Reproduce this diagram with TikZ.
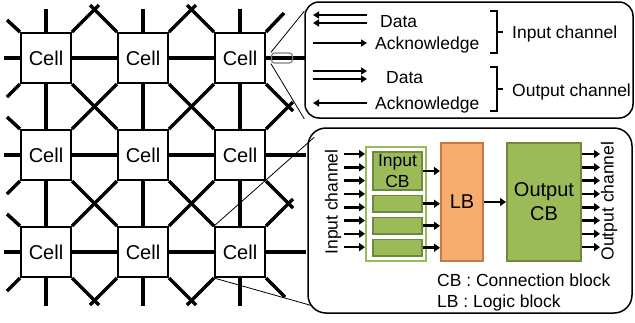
\documentclass[tikz,border=0pt]{standalone}
\usepackage{fontspec}
\setmainfont{Liberation Sans}
\usepackage{xcolor}
\usetikzlibrary{arrows.meta,positioning,backgrounds,calc}

\definecolor{cbgreen}{HTML}{9BBB59}
\definecolor{cbdark}{HTML}{71893F}
\definecolor{lborange}{HTML}{F8AD70}
\definecolor{lbdark}{HTML}{C8783C}

\begin{document}
\begin{tikzpicture}[
  x=1pt, y=-1pt,
  cell/.style={draw,line width=2pt,fill=white,minimum size=50pt,inner sep=0pt,font=\fontsize{20}{22}\selectfont},
  link/.style={line width=3.5pt},
  zoombox/.style={draw,line width=1.5pt,rounded corners=14pt,fill=white},
  zoomline/.style={line width=0.8pt},
  txt/.style={inner sep=0pt,font=\fontsize{17.5}{21}\selectfont},
  sig/.style={line width=2pt,-{Triangle[length=6pt,width=7pt]}},
  bus/.style={line width=2.6pt,-{Triangle[length=6pt,width=8pt]}},
  brk/.style={line width=1.5pt},
  cbbox/.style={draw=cbdark,fill=cbgreen,line width=1.5pt,minimum width=49pt,inner sep=0pt},
  node distance=4pt
]
\useasboundingbox (0,0) rectangle (635,322);

% cell array
\foreach \i in {1,2,3}
  \foreach \j in {1,2,3}
    \node[cell] (c\i\j) at ({97*\i-51},{97*\j-39}) {Cell};

\begin{scope}[on background layer]
  \foreach \i/\p in {1/2,2/3} {
    \foreach \j in {1,2,3} {
      \draw[link] (c\i\j.east) -- (c\p\j.west);
      \draw[link] (c\j\i.south) -- (c\j\p.north);
    }
    \foreach \j/\q in {1/2,2/3} {
      \draw[link] (c\i\j.south east) -- (c\p\q.north west);
      \draw[link] (c\p\j.south west) -- (c\i\q.north east);
    }
    % outer ends that meet in a cross
    \draw[link] (c\i1.north east) -- ++(27,-27);
    \draw[link] (c\p1.north west) -- ++(-27,-27);
    \draw[link] (c\i3.south east) -- ++(27,27);
    \draw[link] (c\p3.south west) -- ++(-27,27);
    \draw[link] (c3\i.south east) -- ++(27,27);
    \draw[link] (c3\p.north east) -- ++(27,-27);
  }
  \foreach \j in {1,2,3} {
    \draw[link] (c1\j.west) -- ++(-16,0);
    \draw[link] (c1\j.north west) -- ++(-13,-12);
    \draw[link] (c1\j.south west) -- ++(-13,13);
    \draw[link] (c\j1.north) -- ++(0,-23);
    \draw[link] (c\j3.south) -- ++(0,28);
    \draw[link] (c3\j.east) -- ++(40,0);
  }
  \draw[link] (c31.north east) -- ++(18,-19);
  \draw[link] (c33.south east) -- ++(19,19);
\end{scope}

% zoomed views
\node[draw=gray,line width=1.2pt,rounded corners=3pt,minimum width=21pt,minimum height=10pt,inner sep=0pt] (mag) at (282,58) {};
\node[zoombox,minimum width=328pt,minimum height=116pt] (zoomA) at (469,60) {};
\node[zoombox,rounded corners=18pt,minimum width=324pt,minimum height=185pt] (zoomB) at (470,220.5) {};
\draw[zoomline] (mag.north west) -- ([yshift=-10pt]zoomA.north west);
\draw[zoomline] (mag.south west) -- (zoomA.south west);
\draw[zoomline] (c33.north west) -- ([xshift=7pt,yshift=-10pt]zoomB.north west);
\draw[zoomline] (c33.south west) -- ([xshift=5pt,yshift=8pt]zoomB.south west);

% channel signals
\node[txt,anchor=base west] (dataIn) at (380,27) {Data};
\node[txt,anchor=base west] (ackIn) at (375,49) {Acknowledge};
\node[txt,anchor=base west] (dataOut) at (386,83) {Data};
\node[txt,anchor=base west] (ackOut) at (375,109) {Acknowledge};
\draw[sig] ($(dataIn.base west)+(-13,-12)$) -- ++(-54,0);
\draw[sig] ($(dataIn.base west)+(-13,-4)$) -- ++(-54,0);
\draw[sig] ($(ackIn.base west)+(-62,-6)$) -- ++(54,0);
\draw[sig] ($(dataOut.base west)+(-73,-12)$) -- ++(54,0);
\draw[sig] ($(dataOut.base west)+(-73,-4)$) -- ++(54,0);
\draw[sig] ($(ackOut.base west)+(-8,-6)$) -- ++(-54,0);

\draw[brk] (490,11) -- (497,11) -- (497,53) -- (490,53) (497,32) -- (503,32);
\draw[brk] (490,67) -- (497,67) -- (497,111) -- (490,111) (497,89) -- (503,89);
\node[txt,anchor=base west] (inCh) at (512,38) {Input channel};
\node[txt,anchor=base west] (outCh) at (512,96) {Output channel};

% cell structure
\node[draw=cbgreen,fill=white,line width=2pt,minimum width=60pt,minimum height=114pt,inner sep=0pt] (icb) at (396,204) {};
\node[cbbox,minimum height=38pt,align=center,font=\fontsize{17.5}{21}\selectfont] (cb1) at (397.5,171) {Input\\CB};
\node[cbbox,minimum height=16.5pt,below=of cb1] (cb2) {};
\node[cbbox,minimum height=16.5pt,below=of cb2] (cb3) {};
\node[cbbox,minimum height=16.5pt,below=of cb3] (cb4) {};
\node[draw=lbdark,fill=lborange,line width=2pt,minimum width=42pt,minimum height=118pt,inner sep=0pt,font=\fontsize{20}{24}\selectfont] (lb) at (462,202) {LB};
\node[draw=cbdark,fill=cbgreen,line width=2pt,minimum width=74pt,minimum height=118pt,inner sep=0pt,align=center,font=\fontsize{20}{24}\selectfont] (ocb) at (544,202) {Output\\CB};

\foreach \n in {1,...,4}
  \draw[bus] (cb\n.east) -- (cb\n.east -| lb.west);
\draw[bus] (lb) -- (ocb);
\foreach \n [evaluate=\n as \yy using 154+13.3*\n] in {0,...,7} {
  \draw[bus] ($(icb.west |- 0,\yy)+(-21,0)$) -- (icb.west |- 0,\yy);
  \draw[bus] (ocb.east |- 0,\yy) -- ++(18,0);
}
\node[txt,rotate=90] (inLbl) at (333,202) {Input channel};
\node[txt,rotate=90] (outLbl) at (609,201) {Output channel};
\node[txt,anchor=base west] (cbNote) at (437,286) {CB : Connection block};
\node[txt,anchor=base west] (lbNote) at (437,307) {LB : Logic block};
\end{tikzpicture}
\end{document}
